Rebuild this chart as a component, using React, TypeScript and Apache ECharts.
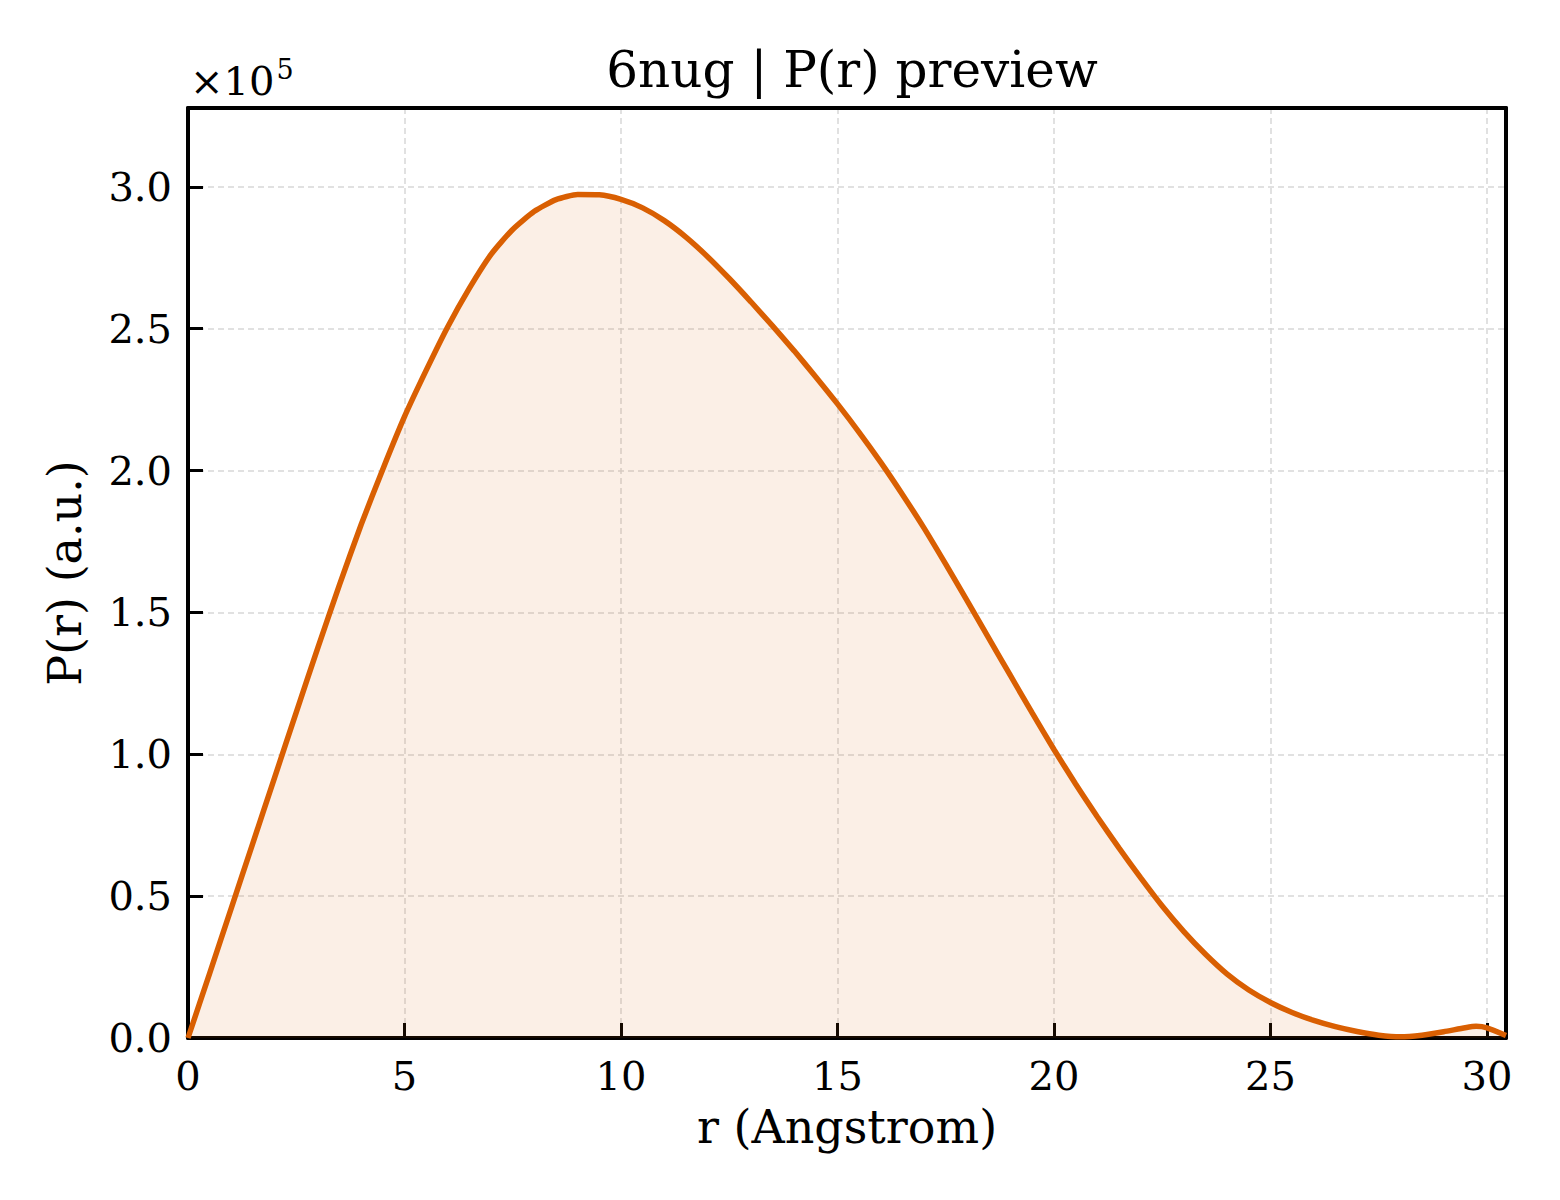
import React from 'react';
import * as echarts from 'echarts';

// P(r) curve (r in Angstrom, P in arbitrary units)
const rValues = [
  0, 0.5, 1, 1.5, 2, 2.5, 3, 3.5, 4, 4.5, 5, 5.5, 6, 6.5, 7, 7.5, 8, 8.5, 9, 9.5, 10, 10.5,
  11, 11.5, 12, 12.5, 13, 13.5, 14, 14.5, 15, 15.5, 16, 16.5, 17, 17.5, 18, 18.5, 19, 19.5,
  20, 20.5, 21, 21.5, 22, 22.5, 23, 23.5, 24, 24.5, 25, 25.5, 26, 26.5, 27, 27.5, 28, 28.5,
  29, 29.5, 29.75, 30, 30.44,
];
const pValues = [
  0, 22800, 45800, 68800, 91800, 114800, 137600, 159800, 181000, 200500, 219000, 235300,
  250700, 264300, 276200, 285000, 291400, 295500, 297300, 297200, 295600, 292600, 288100,
  282300, 275400, 267700, 259500, 251000, 242200, 233000, 223500, 213500, 202900, 191600,
  179700, 167000, 154000, 140800, 127600, 114500, 101700, 89500, 78000, 67000, 56500, 46500,
  37500, 29500, 22500, 16900, 12500, 9000, 6200, 4000, 2300, 1000, 400, 1000, 2200, 3600,
  4100, 3600, 900,
];

const xTicks = [0, 5, 10, 15, 20, 25, 30];
const yTicks = [0, 0.5, 1.0, 1.5, 2.0, 2.5, 3.0];

const FONT = '"DejaVu Serif", serif';
const X_MAX = 30.44;
const Y_MAX = 327800;

const App: React.FC = () => {
  const chartRef = React.useRef<HTMLDivElement>(null);

  React.useEffect(() => {
    document.body.style.margin = '0';
    if (!chartRef.current) return;
    const chart = echarts.init(chartRef.current, undefined, { renderer: 'svg' });

    const gridLine = { show: true, lineStyle: { color: '#d8d8d8', width: 1.5, type: [6, 4] } };
    const tick = { show: true, inside: true, length: 15, lineStyle: { color: '#000', width: 3 } };
    const spine = { show: true, onZero: false, lineStyle: { color: '#000', width: 4 } };

    chart.setOption({
      animation: false,
      backgroundColor: '#ffffff',
      textStyle: { fontFamily: FONT },
      title: {
        text: '6nug | P(r) preview',
        left: 847,
        textAlign: 'center',
        top: 40,
        textStyle: { fontFamily: FONT, fontSize: 50, fontWeight: 'normal', color: '#000' },
      },
      graphic: [
        {
          type: 'text',
          left: 190,
          top: 56,
          style: {
            text: '{a|×10}{b|5}',
            rich: {
              a: { fontFamily: FONT, fontSize: 40, fill: '#000', verticalAlign: 'bottom' },
              b: { fontFamily: FONT, fontSize: 27, fill: '#000', verticalAlign: 'top', padding: [0, 0, 18, 2] },
            },
          },
        },
      ],
      grid: {
        left: 188,
        right: 54,
        top: 108,
        bottom: 162,
      },
      xAxis: [
        {
          type: 'value',
          min: 0,
          max: X_MAX,
          interval: 5,
          name: 'r (Angstrom)',
          nameLocation: 'middle',
          nameGap: 66,
          nameTextStyle: { fontFamily: FONT, fontSize: 46, color: '#000' },
          axisLine: spine,
          axisTick: tick,
          axisLabel: {
            fontFamily: FONT,
            fontSize: 40,
            color: '#000',
            margin: 18,
            showMaxLabel: false,
            formatter: (v: number) => (xTicks.includes(v) ? String(v) : ''),
          },
          splitLine: gridLine,
        },
        {
          type: 'value',
          position: 'top',
          min: 0,
          max: X_MAX,
          axisLine: spine,
          axisTick: { show: false },
          axisLabel: { show: false },
          splitLine: { show: false },
        },
      ],
      yAxis: [
        {
          type: 'value',
          min: 0,
          max: Y_MAX,
          interval: 50000,
          name: 'P(r) (a.u.)',
          nameLocation: 'middle',
          nameGap: 100,
          nameTextStyle: { fontFamily: FONT, fontSize: 46, color: '#000' },
          axisLine: spine,
          axisTick: tick,
          axisLabel: {
            fontFamily: FONT,
            fontSize: 40,
            color: '#000',
            margin: 16,
            showMaxLabel: false,
            formatter: (v: number) => {
              const s = v / 1e5;
              return yTicks.some((t) => Math.abs(t - s) < 1e-9) ? s.toFixed(1) : '';
            },
          },
          splitLine: gridLine,
        },
        {
          type: 'value',
          position: 'right',
          min: 0,
          max: Y_MAX,
          axisLine: spine,
          axisTick: { show: false },
          axisLabel: { show: false },
          splitLine: { show: false },
        },
      ],
      series: [
        {
          type: 'line',
          xAxisIndex: 0,
          yAxisIndex: 0,
          data: rValues.map((r, i) => [r, pValues[i]]),
          showSymbol: false,
          smooth: 0.2,
          clip: true,
          lineStyle: { color: '#d95f02', width: 5.5 },
          itemStyle: { color: '#d95f02' },
          areaStyle: { color: 'rgba(217,95,2,0.14)', origin: 'start' },
        },
      ],
    });

    return () => {
      chart.dispose();
    };
  }, []);

  return <div ref={chartRef} style={{ width: 1560, height: 1200 }} />;
};

export default App;
